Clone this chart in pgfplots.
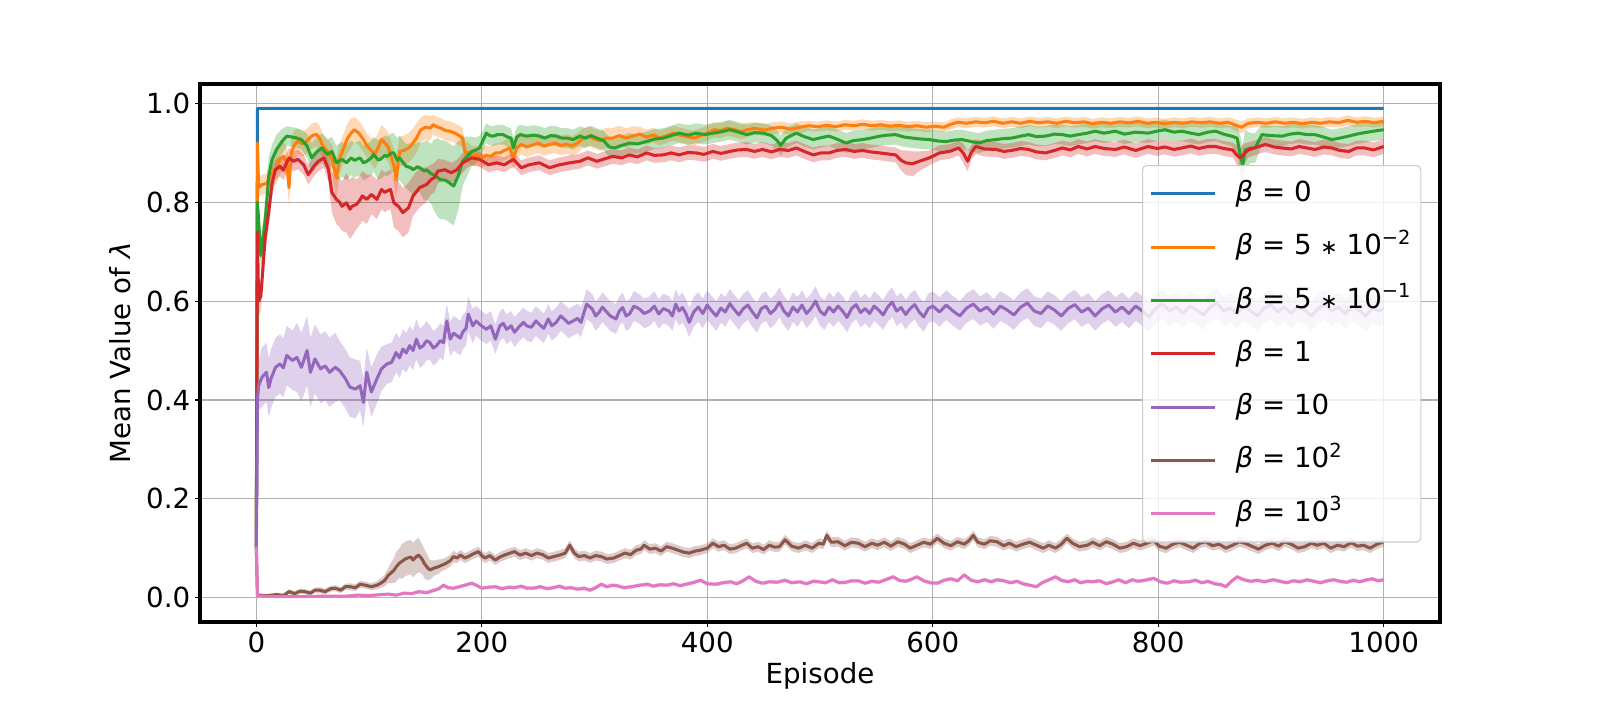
\documentclass[border=0pt]{standalone}
\usepackage{fontspec}
\setmainfont{DejaVu Sans}
\usepackage{pgfplots}
\pgfplotsset{compat=1.18}
\usepgfplotslibrary{fillbetween}
\usepackage{pgfplotstable}
\definecolor{c0}{HTML}{1F77B4}
\definecolor{c1}{HTML}{FF7F0E}
\definecolor{c2}{HTML}{2CA02C}
\definecolor{c3}{HTML}{D62728}
\definecolor{c4}{HTML}{9467BD}
\definecolor{c5}{HTML}{8C564B}
\definecolor{c6}{HTML}{E377C2}
\newcommand{\myast}{{\fontsize{15}{15}\selectfont ∗}}

\pgfplotstableread{
x y s
0 0.10 0
1 0.92 0.0
2 0.83 0.02
5 0.836 0.02
9 0.838 0.02
12 0.85 0.03
15 0.862 0.03
18 0.87 0.03
21 0.887 0.03
24 0.893 0.03
27 0.88 0.03
29 0.83 0.04
31 0.90 0.03
34 0.917 0.03
37 0.924 0.025
41 0.918 0.025
45 0.924 0.025
49 0.934 0.025
53 0.938 0.025
56 0.93 0.025
59 0.914 0.025
63 0.903 0.025
67 0.887 0.03
71 0.85 0.04
74 0.89 0.03
77 0.907 0.03
81 0.93 0.03
84 0.94 0.03
87 0.947 0.025
91 0.94 0.025
95 0.927 0.025
98 0.915 0.025
101 0.907 0.025
105 0.897 0.03
108 0.91 0.03
111 0.927 0.03
114 0.92 0.03
117 0.912 0.03
120 0.89 0.03
122 0.875 0.035
124 0.846 0.04
127 0.903 0.03
131 0.905 0.03
135 0.91 0.03
138 0.917 0.03
142 0.93 0.03
146 0.947 0.025
150 0.952 0.025
154 0.95 0.025
157 0.957 0.02
161 0.952 0.02
164 0.95 0.02
168 0.945 0.02
172 0.944 0.02
176 0.94 0.02
180 0.935 0.02
183 0.93 0.02
185 0.903 0.02
188 0.9 0.02
192 0.893 0.02
196 0.895 0.02
200 0.89 0.02
204 0.895 0.02
208 0.893 0.02
212 0.9 0.02
216 0.9 0.02
220 0.905 0.02
225 0.91 0.02
228 0.887 0.02
231 0.91 0.02
235 0.917 0.02
240 0.912 0.02
245 0.916 0.02
250 0.92 0.02
255 0.914 0.02
260 0.917 0.02
265 0.92 0.02
270 0.915 0.02
275 0.918 0.02
280 0.914 0.02
285 0.92 0.02
290 0.93 0.02
295 0.934 0.02
300 0.928 0.02
305 0.925 0.02
310 0.93 0.02
316 0.93 0.02
322 0.935 0.02
328 0.93 0.02
334 0.934 0.02
340 0.938 0.015
346 0.932 0.015
352 0.936 0.015
358 0.93 0.015
364 0.935 0.015
370 0.94 0.015
376 0.936 0.015
382 0.933 0.015
388 0.93 0.015
394 0.935 0.015
400 0.94 0.015
406 0.947 0.015
412 0.945 0.015
418 0.95 0.015
424 0.947 0.015
430 0.943 0.015
436 0.947 0.015
442 0.95 0.012
450 0.946 0.012
458 0.95 0.012
466 0.952 0.012
474 0.948 0.012
482 0.952 0.012
490 0.955 0.01
498 0.953 0.01
506 0.956 0.01
514 0.953 0.01
522 0.957 0.01
530 0.955 0.01
538 0.958 0.01
546 0.955 0.01
554 0.957 0.01
562 0.954 0.01
570 0.956 0.01
578 0.953 0.01
586 0.955 0.01
594 0.952 0.01
602 0.954 0.01
610 0.952 0.01
616 0.958 0.01
622 0.962 0.01
630 0.96 0.01
638 0.963 0.01
646 0.961 0.01
654 0.964 0.01
662 0.96 0.01
670 0.963 0.01
678 0.96 0.01
686 0.964 0.01
694 0.961 0.01
702 0.963 0.01
710 0.96 0.01
718 0.964 0.01
726 0.961 0.01
734 0.963 0.01
742 0.959 0.01
750 0.962 0.01
758 0.96 0.01
766 0.963 0.01
774 0.961 0.01
782 0.964 0.01
790 0.96 0.01
798 0.962 0.01
806 0.959 0.01
814 0.962 0.01
822 0.96 0.01
830 0.963 0.01
838 0.961 0.01
846 0.963 0.01
854 0.96 0.01
862 0.962 0.01
870 0.955 0.012
874 0.952 0.012
880 0.96 0.01
888 0.962 0.01
896 0.96 0.01
904 0.963 0.01
912 0.96 0.01
920 0.962 0.01
928 0.959 0.01
936 0.962 0.01
944 0.96 0.01
952 0.963 0.01
960 0.961 0.01
968 0.966 0.01
976 0.962 0.01
984 0.964 0.01
992 0.961 0.01
1000 0.964 0.01
}\orange

\pgfplotstableread{
x y s
0 0.10 0
1 0.80 0.0
4 0.692 0.03
8 0.766 0.04
11 0.853 0.04
14 0.887 0.03
18 0.907 0.03
23 0.924 0.025
27 0.934 0.02
32 0.932 0.02
36 0.93 0.02
40 0.927 0.02
45 0.914 0.025
49 0.89 0.03
54 0.903 0.03
58 0.91 0.03
63 0.897 0.03
67 0.903 0.03
71 0.88 0.035
76 0.887 0.035
80 0.88 0.035
84 0.89 0.035
87 0.885 0.035
92 0.89 0.035
95 0.88 0.035
98 0.883 0.035
102 0.89 0.035
104 0.897 0.035
108 0.886 0.04
110 0.887 0.04
114 0.895 0.04
116 0.893 0.04
120 0.9 0.04
122 0.9 0.04
125 0.885 0.045
127 0.89 0.045
131 0.878 0.045
133 0.873 0.045
137 0.87 0.05
139 0.866 0.05
143 0.872 0.05
145 0.87 0.05
149 0.863 0.06
151 0.866 0.06
155 0.858 0.06
157 0.856 0.07
161 0.85 0.08
163 0.846 0.08
167 0.845 0.08
169 0.843 0.08
172 0.838 0.08
175 0.833 0.08
179 0.853 0.07
183 0.883 0.05
187 0.893 0.04
191 0.903 0.03
195 0.906 0.025
198 0.91 0.025
201 0.925 0.02
204 0.94 0.02
207 0.935 0.02
210 0.934 0.02
214 0.937 0.02
219 0.937 0.02
223 0.932 0.02
226 0.93 0.02
228 0.91 0.02
231 0.932 0.02
234 0.937 0.02
240 0.934 0.02
246 0.936 0.02
251 0.934 0.02
256 0.93 0.02
261 0.935 0.02
266 0.934 0.02
271 0.93 0.02
276 0.93 0.02
281 0.927 0.02
287 0.934 0.02
292 0.93 0.02
297 0.935 0.02
302 0.93 0.02
308 0.925 0.02
313 0.912 0.02
318 0.91 0.02
324 0.915 0.02
331 0.92 0.02
338 0.918 0.02
346 0.923 0.02
353 0.928 0.02
361 0.93 0.02
368 0.935 0.02
375 0.94 0.02
383 0.936 0.02
390 0.94 0.02
398 0.937 0.02
405 0.94 0.02
413 0.943 0.02
420 0.947 0.02
428 0.942 0.02
435 0.937 0.02
442 0.941 0.02
450 0.94 0.02
457 0.935 0.02
462 0.925 0.02
465 0.915 0.02
470 0.93 0.02
479 0.94 0.02
486 0.933 0.02
494 0.927 0.02
501 0.931 0.02
508 0.934 0.02
515 0.928 0.02
523 0.92 0.02
530 0.925 0.02
538 0.927 0.02
545 0.93 0.02
553 0.934 0.02
560 0.936 0.02
567 0.937 0.02
575 0.932 0.02
582 0.93 0.02
590 0.928 0.02
597 0.927 0.02
605 0.924 0.02
612 0.923 0.02
619 0.926 0.02
626 0.927 0.02
634 0.923 0.02
641 0.92 0.02
648 0.925 0.02
656 0.927 0.02
663 0.929 0.02
670 0.93 0.02
678 0.934 0.02
685 0.937 0.02
692 0.933 0.02
700 0.934 0.02
708 0.938 0.02
715 0.937 0.02
722 0.934 0.02
729 0.937 0.02
737 0.94 0.02
744 0.944 0.02
752 0.94 0.02
762 0.944 0.02
770 0.938 0.02
780 0.942 0.02
791 0.94 0.02
799 0.944 0.02
806 0.947 0.02
814 0.942 0.02
821 0.944 0.02
829 0.94 0.02
836 0.937 0.02
844 0.942 0.02
851 0.944 0.02
858 0.938 0.02
865 0.934 0.02
870 0.93 0.03
873 0.893 0.04
875 0.875 0.04
877 0.906 0.04
882 0.91 0.03
886 0.91 0.03
892 0.937 0.02
900 0.935 0.02
910 0.934 0.02
917 0.938 0.02
924 0.94 0.02
932 0.937 0.02
939 0.937 0.02
947 0.932 0.02
954 0.927 0.02
961 0.93 0.02
969 0.934 0.02
976 0.938 0.02
983 0.941 0.02
991 0.944 0.02
1000 0.947 0.02
}\green

\pgfplotstableread{
x y s
0 0.10 0
1 0.74 0.0
2 0.60 0.03
4 0.61 0.03
8 0.732 0.03
11 0.78 0.03
14 0.84 0.03
17 0.866 0.02
21 0.873 0.02
24 0.865 0.02
26 0.876 0.02
29 0.89 0.02
33 0.883 0.02
37 0.887 0.02
42 0.876 0.02
46 0.856 0.02
49 0.866 0.02
51 0.873 0.02
55 0.883 0.02
60 0.89 0.02
64 0.866 0.025
67 0.82 0.04
71 0.806 0.05
74 0.80 0.05
76 0.792 0.05
80 0.799 0.06
83 0.786 0.06
85 0.792 0.06
89 0.796 0.05
92 0.805 0.05
94 0.813 0.05
98 0.806 0.05
102 0.816 0.04
105 0.81 0.04
107 0.806 0.04
111 0.826 0.04
114 0.82 0.04
116 0.823 0.04
119 0.826 0.04
122 0.799 0.05
126 0.792 0.05
130 0.779 0.05
133 0.785 0.05
135 0.789 0.05
139 0.813 0.04
145 0.83 0.04
151 0.836 0.035
155 0.846 0.03
158 0.85 0.03
161 0.863 0.025
167 0.866 0.02
173 0.86 0.02
178 0.866 0.02
183 0.88 0.02
187 0.885 0.015
191 0.89 0.015
198 0.887 0.015
206 0.876 0.015
213 0.88 0.015
220 0.876 0.015
228 0.887 0.015
235 0.87 0.015
242 0.876 0.015
251 0.88 0.015
260 0.87 0.015
269 0.876 0.015
278 0.88 0.015
287 0.883 0.015
294 0.89 0.015
302 0.883 0.015
309 0.888 0.015
316 0.893 0.015
324 0.89 0.015
331 0.896 0.015
338 0.892 0.015
346 0.90 0.015
353 0.895 0.015
361 0.896 0.015
368 0.9 0.015
375 0.896 0.015
383 0.901 0.015
390 0.9 0.015
397 0.897 0.015
405 0.903 0.015
412 0.899 0.015
420 0.903 0.015
427 0.906 0.015
435 0.907 0.015
442 0.903 0.015
449 0.907 0.015
457 0.902 0.015
464 0.907 0.015
472 0.905 0.015
479 0.91 0.015
486 0.903 0.015
494 0.896 0.015
501 0.9 0.015
508 0.9 0.015
515 0.905 0.015
523 0.907 0.015
530 0.903 0.015
538 0.905 0.015
545 0.902 0.015
553 0.9 0.015
560 0.898 0.015
567 0.896 0.015
572 0.885 0.02
576 0.88 0.025
582 0.878 0.025
588 0.883 0.02
597 0.89 0.015
606 0.9 0.015
615 0.903 0.015
623 0.91 0.015
627 0.9 0.02
631 0.883 0.02
634 0.9 0.015
638 0.913 0.015
646 0.908 0.015
656 0.907 0.015
663 0.903 0.015
670 0.905 0.015
678 0.909 0.015
685 0.907 0.015
692 0.902 0.015
700 0.9 0.015
708 0.905 0.015
715 0.91 0.015
722 0.906 0.015
729 0.913 0.015
737 0.908 0.015
744 0.913 0.015
752 0.909 0.015
762 0.907 0.015
770 0.912 0.015
780 0.905 0.015
791 0.913 0.015
799 0.909 0.015
806 0.912 0.015
814 0.907 0.015
821 0.91 0.015
829 0.914 0.015
836 0.909 0.015
844 0.913 0.015
851 0.913 0.015
858 0.909 0.015
866 0.906 0.015
870 0.895 0.02
873 0.89 0.02
877 0.9 0.02
880 0.906 0.015
888 0.912 0.015
895 0.917 0.015
903 0.912 0.015
910 0.91 0.015
918 0.908 0.015
925 0.913 0.015
932 0.91 0.015
939 0.907 0.015
947 0.912 0.015
954 0.91 0.015
961 0.905 0.015
969 0.903 0.015
976 0.91 0.015
983 0.91 0.015
991 0.906 0.015
1000 0.913 0.015
}\red

\pgfplotstableread{
x y s
0 0.10 0
1 0.40 0.03
2 0.429 0.05
5 0.446 0.06
9 0.456 0.06
11 0.425 0.06
13 0.443 0.06
17 0.466 0.06
21 0.473 0.06
24 0.465 0.06
27 0.49 0.06
32 0.48 0.06
36 0.486 0.07
40 0.466 0.07
45 0.50 0.07
48 0.456 0.07
52 0.483 0.07
57 0.463 0.07
61 0.469 0.07
65 0.456 0.07
70 0.466 0.07
74 0.459 0.06
79 0.443 0.06
83 0.426 0.06
88 0.422 0.06
92 0.429 0.05
95 0.395 0.05
98 0.456 0.05
102 0.416 0.05
107 0.443 0.05
111 0.463 0.045
116 0.473 0.04
120 0.476 0.04
124 0.496 0.04
127 0.485 0.04
130 0.503 0.04
133 0.495 0.04
136 0.51 0.04
139 0.5 0.04
142 0.523 0.04
145 0.505 0.04
148 0.51 0.04
151 0.52 0.04
154 0.516 0.035
157 0.505 0.035
160 0.51 0.035
163 0.52 0.035
166 0.516 0.035
169 0.56 0.035
172 0.523 0.035
175 0.535 0.035
178 0.53 0.035
181 0.525 0.035
183 0.537 0.035
186 0.545 0.035
188 0.574 0.035
192 0.55 0.035
195 0.56 0.03
198 0.553 0.03
201 0.548 0.03
204 0.543 0.03
208 0.55 0.03
212 0.523 0.03
216 0.55 0.03
219 0.555 0.03
222 0.543 0.03
226 0.55 0.03
229 0.537 0.03
233 0.548 0.03
237 0.557 0.03
240 0.55 0.03
244 0.547 0.03
248 0.56 0.03
251 0.553 0.03
255 0.545 0.03
259 0.564 0.03
262 0.55 0.03
266 0.557 0.03
270 0.57 0.03
273 0.564 0.03
277 0.555 0.03
281 0.56 0.03
285 0.565 0.03
288 0.557 0.03
293 0.594 0.03
298 0.584 0.03
301 0.57 0.03
304 0.577 0.03
307 0.588 0.03
310 0.58 0.03
314 0.57 0.03
319 0.564 0.03
322 0.58 0.03
325 0.587 0.03
328 0.57 0.03
331 0.574 0.03
335 0.59 0.03
340 0.584 0.03
344 0.575 0.03
349 0.58 0.03
353 0.59 0.03
357 0.574 0.03
361 0.585 0.03
366 0.58 0.03
369 0.57 0.03
372 0.594 0.03
375 0.58 0.03
378 0.587 0.03
381 0.575 0.03
384 0.557 0.03
388 0.578 0.03
392 0.588 0.03
396 0.575 0.03
400 0.592 0.03
404 0.58 0.03
408 0.57 0.03
412 0.586 0.03
416 0.578 0.03
420 0.595 0.03
424 0.583 0.03
428 0.572 0.03
432 0.585 0.03
436 0.592 0.03
440 0.578 0.03
444 0.566 0.03
448 0.585 0.03
452 0.59 0.03
456 0.575 0.03
460 0.583 0.03
464 0.598 0.03
468 0.58 0.03
472 0.57 0.03
476 0.588 0.03
480 0.578 0.03
484 0.592 0.03
488 0.575 0.03
492 0.585 0.03
496 0.6 0.03
500 0.58 0.03
504 0.572 0.03
508 0.588 0.03
512 0.578 0.03
516 0.59 0.03
520 0.58 0.03
524 0.567 0.03
528 0.585 0.03
532 0.593 0.03
536 0.577 0.03
540 0.585 0.03
544 0.575 0.03
548 0.59 0.03
552 0.582 0.03
556 0.572 0.03
560 0.588 0.03
564 0.598 0.03
568 0.58 0.03
572 0.587 0.03
576 0.573 0.03
580 0.585 0.03
584 0.593 0.03
588 0.578 0.03
592 0.568 0.03
596 0.585 0.03
600 0.59 0.03
606 0.578 0.03
612 0.592 0.03
618 0.58 0.03
624 0.57 0.03
630 0.586 0.03
636 0.594 0.03
642 0.58 0.03
648 0.588 0.03
654 0.574 0.03
660 0.59 0.03
666 0.582 0.03
672 0.572 0.03
678 0.588 0.03
684 0.596 0.03
690 0.58 0.03
696 0.575 0.03
702 0.59 0.03
708 0.582 0.03
714 0.57 0.03
720 0.585 0.03
726 0.593 0.03
732 0.578 0.03
738 0.586 0.03
744 0.57 0.03
750 0.584 0.03
756 0.592 0.03
762 0.578 0.03
768 0.588 0.03
774 0.575 0.03
780 0.59 0.03
786 0.58 0.03
792 0.568 0.03
798 0.586 0.03
804 0.594 0.03
810 0.58 0.03
816 0.588 0.03
822 0.576 0.03
828 0.59 0.03
834 0.582 0.03
840 0.572 0.03
846 0.588 0.03
852 0.596 0.03
858 0.58 0.03
864 0.586 0.03
870 0.575 0.03
876 0.59 0.03
882 0.58 0.03
888 0.57 0.03
894 0.586 0.03
900 0.593 0.03
906 0.578 0.03
912 0.588 0.03
918 0.575 0.03
924 0.59 0.03
930 0.582 0.03
936 0.57 0.03
942 0.585 0.03
948 0.594 0.03
954 0.58 0.03
960 0.588 0.03
966 0.574 0.03
972 0.59 0.03
978 0.582 0.03
984 0.57 0.03
990 0.586 0.03
996 0.58 0.03
1000 0.585 0.03
}\purple

\pgfplotstableread{
x y s
0 0.10 0
1 0.005 0.002
10 0.004 0.003
18 0.006 0.004
24 0.004 0.004
29 0.012 0.005
34 0.008 0.005
39 0.013 0.005
43 0.012 0.005
48 0.009 0.005
52 0.015 0.005
56 0.015 0.006
61 0.012 0.006
66 0.018 0.006
70 0.019 0.006
75 0.015 0.006
79 0.022 0.006
83 0.022 0.007
88 0.02 0.007
92 0.027 0.007
97 0.025 0.007
102 0.022 0.007
107 0.025 0.008
111 0.03 0.01
114 0.035 0.012
117 0.045 0.015
119 0.049 0.02
122 0.055 0.025
124 0.062 0.03
127 0.07 0.03
129 0.073 0.035
132 0.078 0.035
134 0.08 0.035
137 0.082 0.035
139 0.076 0.035
142 0.083 0.035
144 0.086 0.035
147 0.078 0.03
149 0.069 0.03
152 0.06 0.025
154 0.056 0.02
158 0.06 0.015
161 0.062 0.015
165 0.066 0.012
168 0.069 0.012
172 0.075 0.012
175 0.083 0.012
178 0.08 0.01
181 0.086 0.01
185 0.08 0.01
188 0.083 0.01
192 0.088 0.01
197 0.093 0.01
200 0.085 0.01
203 0.08 0.01
207 0.085 0.01
212 0.076 0.01
216 0.082 0.01
220 0.086 0.01
225 0.09 0.01
229 0.093 0.01
234 0.086 0.01
239 0.09 0.01
244 0.085 0.01
249 0.09 0.01
254 0.087 0.01
259 0.08 0.01
264 0.083 0.01
269 0.086 0.01
274 0.09 0.01
278 0.106 0.01
282 0.09 0.01
286 0.083 0.01
291 0.085 0.01
296 0.08 0.01
301 0.085 0.01
306 0.083 0.01
311 0.078 0.01
317 0.08 0.01
322 0.085 0.01
327 0.09 0.01
332 0.087 0.01
337 0.096 0.01
341 0.098 0.01
344 0.106 0.01
349 0.098 0.01
354 0.1 0.01
359 0.094 0.01
364 0.103 0.01
369 0.1 0.01
374 0.096 0.01
379 0.092 0.01
384 0.09 0.01
389 0.094 0.01
394 0.096 0.01
400 0.1 0.01
405 0.11 0.01
410 0.103 0.01
415 0.106 0.01
420 0.098 0.01
425 0.1 0.01
430 0.105 0.01
435 0.11 0.01
440 0.1 0.01
445 0.103 0.01
450 0.097 0.01
455 0.106 0.01
460 0.102 0.01
464 0.103 0.01
469 0.117 0.01
475 0.104 0.01
481 0.10 0.01
487 0.106 0.01
493 0.1 0.01
499 0.11 0.01
503 0.108 0.01
506 0.126 0.01
510 0.112 0.01
516 0.113 0.01
522 0.105 0.01
528 0.112 0.01
534 0.11 0.01
540 0.103 0.01
546 0.11 0.01
551 0.106 0.01
557 0.112 0.01
563 0.104 0.01
569 0.113 0.01
575 0.108 0.01
580 0.1 0.01
586 0.106 0.01
592 0.112 0.01
598 0.108 0.01
604 0.12 0.01
610 0.11 0.01
616 0.105 0.01
622 0.113 0.01
628 0.108 0.01
632 0.115 0.01
636 0.126 0.01
640 0.112 0.01
646 0.108 0.01
651 0.115 0.01
657 0.113 0.01
663 0.105 0.01
668 0.11 0.01
674 0.103 0.01
680 0.108 0.01
686 0.112 0.01
692 0.106 0.01
698 0.1 0.01
703 0.106 0.01
709 0.1 0.01
714 0.108 0.01
719 0.12 0.01
724 0.11 0.01
730 0.103 0.01
737 0.106 0.01
742 0.112 0.01
748 0.105 0.01
754 0.113 0.01
760 0.108 0.01
766 0.1 0.01
772 0.103 0.01
778 0.11 0.01
784 0.105 0.01
790 0.11 0.01
796 0.115 0.01
801 0.104 0.01
807 0.1 0.01
813 0.108 0.01
819 0.112 0.01
825 0.106 0.01
831 0.1 0.01
837 0.11 0.01
842 0.113 0.01
848 0.105 0.01
854 0.108 0.01
860 0.1 0.01
866 0.106 0.01
872 0.113 0.01
877 0.11 0.01
883 0.104 0.01
889 0.098 0.01
895 0.106 0.01
901 0.11 0.01
907 0.104 0.01
912 0.113 0.01
918 0.108 0.01
924 0.1 0.01
930 0.103 0.01
936 0.11 0.01
941 0.106 0.01
947 0.11 0.01
953 0.1 0.01
959 0.106 0.01
965 0.103 0.01
971 0.111 0.01
977 0.104 0.01
982 0.106 0.01
988 0.1 0.01
994 0.108 0.01
1000 0.113 0.01
}\brown

\pgfplotstableread{
x y s
0 0.103 0
1 0.003 0.002
20 0.002 0.002
40 0.002 0.002
60 0.003 0.002
80 0.003 0.002
90 0.005 0.003
100 0.004 0.003
110 0.006 0.003
117 0.007 0.003
124 0.005 0.003
131 0.009 0.003
138 0.008 0.003
144 0.012 0.004
151 0.01 0.004
158 0.015 0.004
162 0.018 0.004
166 0.025 0.004
170 0.02 0.004
175 0.019 0.004
180 0.022 0.004
185 0.025 0.004
191 0.029 0.004
196 0.024 0.004
200 0.019 0.004
206 0.021 0.004
212 0.022 0.004
218 0.018 0.004
224 0.021 0.004
229 0.02 0.004
235 0.023 0.004
240 0.019 0.004
246 0.019 0.004
252 0.022 0.004
258 0.018 0.004
263 0.02 0.004
269 0.023 0.004
274 0.019 0.004
279 0.02 0.004
285 0.017 0.004
291 0.019 0.004
296 0.015 0.004
301 0.02 0.004
306 0.027 0.004
311 0.022 0.004
316 0.025 0.004
320 0.024 0.004
326 0.02 0.004
333 0.022 0.004
340 0.025 0.004
347 0.027 0.004
352 0.023 0.004
358 0.026 0.004
364 0.025 0.004
370 0.028 0.004
376 0.024 0.004
381 0.027 0.004
387 0.03 0.004
394 0.035 0.004
400 0.028 0.004
408 0.027 0.004
414 0.03 0.004
421 0.032 0.004
426 0.028 0.004
431 0.033 0.004
437 0.042 0.004
443 0.033 0.004
449 0.029 0.004
455 0.032 0.004
462 0.031 0.004
469 0.035 0.004
475 0.03 0.004
482 0.032 0.004
488 0.028 0.004
494 0.033 0.004
499 0.032 0.004
505 0.03 0.004
511 0.036 0.004
517 0.03 0.004
523 0.031 0.004
528 0.034 0.004
534 0.034 0.004
540 0.029 0.004
546 0.033 0.004
552 0.031 0.004
558 0.036 0.004
565 0.042 0.004
570 0.035 0.004
576 0.033 0.004
581 0.037 0.004
586 0.042 0.004
592 0.034 0.004
598 0.03 0.004
604 0.029 0.004
610 0.035 0.004
616 0.038 0.004
622 0.034 0.004
628 0.046 0.004
634 0.035 0.004
640 0.032 0.004
646 0.036 0.004
652 0.032 0.004
657 0.036 0.004
663 0.034 0.004
669 0.03 0.004
675 0.033 0.004
680 0.028 0.004
686 0.025 0.004
692 0.022 0.004
697 0.03 0.004
703 0.036 0.004
709 0.042 0.004
714 0.035 0.004
720 0.032 0.004
726 0.036 0.004
731 0.03 0.004
737 0.033 0.004
742 0.032 0.004
748 0.034 0.004
754 0.028 0.004
760 0.032 0.004
765 0.036 0.004
771 0.03 0.004
777 0.036 0.004
782 0.033 0.004
788 0.035 0.004
796 0.039 0.004
802 0.032 0.004
808 0.029 0.004
814 0.034 0.004
820 0.031 0.004
827 0.032 0.004
833 0.035 0.004
839 0.03 0.004
844 0.033 0.004
850 0.028 0.004
856 0.026 0.004
860 0.022 0.004
865 0.033 0.004
870 0.042 0.004
876 0.036 0.004
882 0.033 0.004
888 0.035 0.004
894 0.032 0.004
902 0.036 0.004
908 0.033 0.004
914 0.03 0.004
920 0.034 0.004
926 0.032 0.004
932 0.036 0.004
938 0.033 0.004
944 0.03 0.004
950 0.034 0.004
956 0.036 0.004
961 0.033 0.004
967 0.031 0.004
973 0.035 0.004
979 0.032 0.004
985 0.036 0.004
990 0.038 0.004
995 0.034 0.004
1000 0.036 0.004
}\pink

\newcommand{\band}[3]{%
  \addplot[draw=none, forget plot, name path=#1U] table[x=x, y expr=\thisrow{y}+\thisrow{s}] {#2};
  \addplot[draw=none, forget plot, name path=#1L] table[x=x, y expr=\thisrow{y}-\thisrow{s}] {#2};
  \addplot[fill=#3, fill opacity=0.3, draw=none, forget plot] fill between[of=#1U and #1L];
}

\begin{document}
\begin{tikzpicture}
\begin{axis}[
  scale only axis,
  width=896.1pt, height=388.8pt,
  xmin=-50, xmax=1050, ymin=-0.0495, ymax=1.0395,
  xtick={0,200,400,600,800,1000},
  ytick={0,0.2,0.4,0.6,0.8,1.0},
  xticklabel style={/pgf/number format/.cd, 1000 sep={}},
  yticklabel style={/pgf/number format/.cd, fixed, fixed zerofill, precision=1},
  /pgf/number format/assume math mode=true,
  tick label style={font=\fontsize{20}{24}\selectfont},
  label style={font=\fontsize{20}{24}\selectfont},
  xlabel={Episode},
  ylabel={Mean Value of \textit{λ}},
  ylabel shift=4pt,
  grid=major,
  major grid style={color=black!31, line width=0.8pt},
  axis line style={line width=3pt},
  tick align=outside, tick pos=left,
  major tick length=3.5pt,
  tick style={black, line width=0.8pt},
  every axis plot/.append style={line width=2.2pt, line join=round},
  legend image code/.code={\draw[#1] (0pt,0pt) -- (46pt,0pt);},
  legend cell align=left,
  legend style={
    at={(0.7597,0.8494)}, anchor=north west,
    draw=black!20, fill=white, fill opacity=0.8, text opacity=1,
    rounded corners=3pt, line width=0.8pt,
    font=\fontsize{20}{24}\selectfont,
    inner xsep=5pt, inner ysep=9pt,
    row sep=15.5pt, column sep=12pt,
    nodes={inner sep=2pt, text height=15pt, text depth=4pt},
  },
]
\coordinate (sw) at (rel axis cs:0,0);
\coordinate (ne) at (rel axis cs:1,1);
\addplot[color=c0] coordinates {(0,0.10) (1,0.99) (1000,0.99)};
\addlegendentry{\textit{β} = 0}
\addplot[color=c1] table[x=x,y=y] {\orange};
\addlegendentry{\textit{β} = 5 \myast\ 10\textsuperscript{−2}}
\band{o}{\orange}{c1}
\addplot[color=c2] table[x=x,y=y] {\green};
\addlegendentry{\textit{β} = 5 \myast\ 10\textsuperscript{−1}}
\band{g}{\green}{c2}
\addplot[color=c3] table[x=x,y=y] {\red};
\addlegendentry{\textit{β} = 1}
\band{r}{\red}{c3}
\addplot[color=c4] table[x=x,y=y] {\purple};
\addlegendentry{\textit{β} = 10}
\band{p}{\purple}{c4}
\addplot[color=c5] table[x=x,y=y] {\brown};
\addlegendentry{\textit{β} = 10\textsuperscript{2}}
\band{b}{\brown}{c5}
\addplot[color=c6] table[x=x,y=y] {\pink};
\addlegendentry{\textit{β} = 10\textsuperscript{3}}
\band{k}{\pink}{c6}
\end{axis}
\pgfresetboundingbox
\path ([shift={(-144.5pt,-56.4pt)}]sw) rectangle ([shift={(115.6pt,60.7pt)}]ne);
\end{tikzpicture}
\end{document}
